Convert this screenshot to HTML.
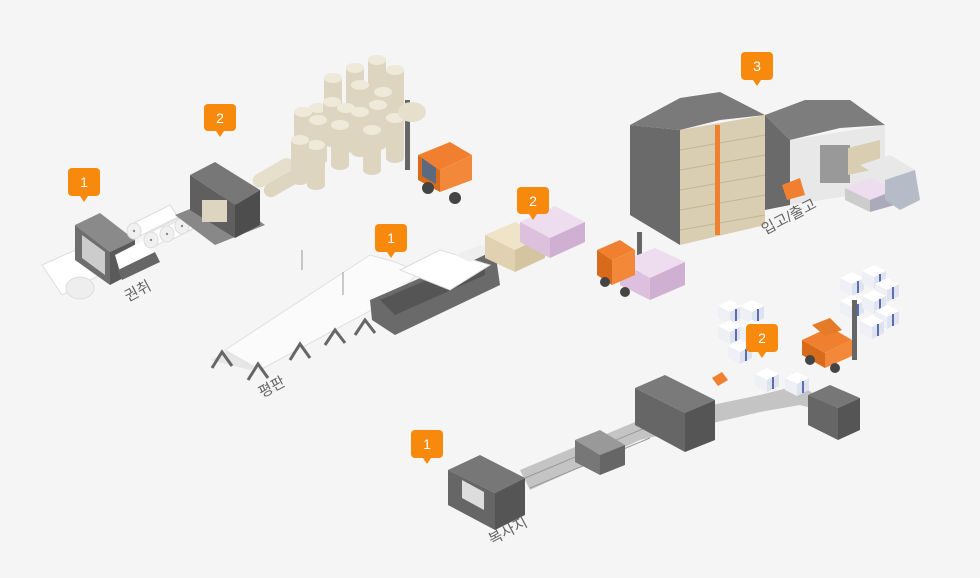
<!DOCTYPE html>
<html><head><meta charset="utf-8"><style>
html,body{margin:0;padding:0;background:#f5f5f5;}
svg{display:block}
.lbl{font-family:"Liberation Sans","Noto Sans CJK KR",sans-serif;font-size:15px;fill:#666}
.mk{font-family:"Liberation Sans",sans-serif;font-size:14px;fill:#fff;text-anchor:middle}
</style></head><body>
<svg width="980" height="578" viewBox="0 0 980 578" xmlns="http://www.w3.org/2000/svg">
<rect width="980" height="578" fill="#f5f5f5"/>
<defs>
<g id="roll"><ellipse cx="0" cy="0" rx="9" ry="5" fill="#e9e3d3"/><rect x="-9" y="0" width="18" height="40" fill="#ddd5c0"/><ellipse cx="0" cy="40" rx="9" ry="5" fill="#ddd5c0"/><ellipse cx="0" cy="0" rx="9" ry="5" fill="#efe9da"/></g>
<g id="wroll"><polygon points="0,0 40,-20 48,-8 8,12" fill="#fff" stroke="#ddd"/><ellipse cx="4" cy="6" rx="7" ry="8" fill="#f0f0f0" stroke="#ddd"/><circle cx="4" cy="6" r="1.2" fill="#888"/></g>
<g id="box"><polygon points="0,6 12,0 24,6 12,12" fill="#fff"/><polygon points="0,6 12,12 12,24 0,18" fill="#eef0f6"/><polygon points="12,12 24,6 24,18 12,24" fill="#dfe3ef"/><line x1="18" y1="9" x2="18" y2="21" stroke="#5a6fb0" stroke-width="2"/></g>
</defs>

<!-- winding machine 1 -->
<g>
<polygon points="42,265 80,248 100,275 62,295" fill="#fff" stroke="#ddd"/>
<ellipse cx="80" cy="288" rx="14" ry="11" fill="#eee" stroke="#ddd"/>
<polygon points="75,225 100,213 135,240 110,252" fill="#8a8a8a"/>
<polygon points="75,225 110,252 110,285 75,260" fill="#6e6e6e"/>
<polygon points="110,252 135,240 135,272 110,285" fill="#5a5a5a"/>
<polygon points="82,235 105,252 105,275 82,258" fill="#ccc"/>
<polygon points="115,255 150,237 155,255 120,272" fill="#fff"/>
<polygon points="118,270 155,252 160,262 122,280" fill="#666"/>
<use href="#wroll" x="130" y="225"/>
<use href="#wroll" x="147" y="234"/>
<use href="#wroll" x="163" y="228"/>
<use href="#wroll" x="178" y="220"/>
<use href="#wroll" x="188" y="212"/>
</g>
<!-- machine 2 -->
<polygon points="175,215 225,195 265,225 215,245" fill="#888"/>
<polygon points="190,175 215,162 260,190 235,205" fill="#777"/>
<polygon points="190,175 235,205 235,238 190,210" fill="#5f5f5f"/>
<polygon points="235,205 260,190 260,225 235,238" fill="#4d4d4d"/>
<rect x="202" y="200" width="25" height="22" fill="#ddd5c0"/>
<g transform="translate(250,178) rotate(-30)"><rect x="0" y="0" width="45" height="14" rx="7" fill="#e6dfcc"/><rect x="5" y="14" width="45" height="14" rx="7" fill="#ddd5c0"/></g>

<!-- paper rolls group -->
<g>
<use href="#roll" x="355" y="68"/><use href="#roll" x="377" y="60"/><use href="#roll" x="395" y="70"/>
<use href="#roll" x="333" y="78"/><use href="#roll" x="360" y="85"/><use href="#roll" x="383" y="92"/>
<use href="#roll" x="318" y="108"/><use href="#roll" x="332" y="102"/><use href="#roll" x="346" y="108"/>
<use href="#roll" x="303" y="112"/><use href="#roll" x="318" y="120"/><use href="#roll" x="340" y="125"/>
<use href="#roll" x="360" y="112"/><use href="#roll" x="378" y="105"/><use href="#roll" x="395" y="118"/>
<use href="#roll" x="372" y="130"/><use href="#roll" x="316" y="145"/><use href="#roll" x="300" y="140"/>
</g>
<!-- orange forklift 1 -->
<rect x="405" y="100" width="5" height="70" fill="#666"/>
<ellipse cx="412" cy="112" rx="14" ry="10" fill="#e6dfcc"/>
<polygon points="418,155 450,142 472,155 440,170" fill="#f08030"/>
<polygon points="418,155 440,170 440,192 418,180" fill="#d86a1c"/>
<polygon points="440,170 472,155 472,180 440,192" fill="#f4883a"/>
<polygon points="422,158 436,168 436,184 422,176" fill="#5a6a80"/>
<circle cx="428" cy="188" r="6" fill="#444"/><circle cx="455" cy="198" r="6" fill="#444"/>

<!-- flat line -->
<polygon points="210,360 355,285 395,268 400,285 250,370" fill="#e6e6e6"/>
<polygon points="225,350 370,255 395,262 420,272 390,300 260,370" fill="#fbfbfb" stroke="#e0e0e0"/>
<polygon points="370,300 450,265 495,250 500,285 395,335 372,320" fill="#6a6a6a"/>
<polygon points="380,300 455,268 485,262 485,275 395,315" fill="#555"/>
<polygon points="400,270 440,250 490,265 450,290" fill="#fff" stroke="#ddd"/>
<polygon points="455,255 480,245 495,250 470,262" fill="#eee"/>
<g fill="none" stroke="#666" stroke-width="3">
<polyline points="212,368 222,352 232,366"/><polyline points="248,380 258,364 268,378"/><polyline points="290,360 300,344 310,358"/><polyline points="325,345 335,330 345,343"/><polyline points="355,335 365,320 375,333"/>
</g>
<line x1="302" y1="250" x2="302" y2="270" stroke="#999"/><line x1="343" y1="272" x2="343" y2="295" stroke="#999"/>

<!-- beige boxes -->
<polygon points="485,235 515,222 545,235 515,250" fill="#efe4c8"/>
<polygon points="485,235 515,250 515,272 485,258" fill="#e0d2b0"/>
<polygon points="515,250 545,235 545,258 515,272" fill="#d4c5a0"/>
<polygon points="520,222 555,206 585,222 550,238" fill="#eedcef"/>
<polygon points="520,222 550,238 550,258 520,242" fill="#dcc0de"/>
<polygon points="550,238 585,222 585,242 550,258" fill="#cfb0d2"/>
<!-- pink forklift -->
<rect x="637" y="232" width="5" height="50" fill="#666"/>
<polygon points="620,262 655,248 685,262 650,278" fill="#eedcef"/>
<polygon points="620,262 650,278 650,300 620,285" fill="#dcc0de"/>
<polygon points="650,278 685,262 685,285 650,300" fill="#cfb0d2"/>
<polygon points="597,250 620,240 635,250 612,260" fill="#f08030"/>
<polygon points="597,250 612,260 612,285 597,275" fill="#d86a1c"/>
<polygon points="612,260 635,250 635,275 612,285" fill="#f4883a"/>
<circle cx="605" cy="282" r="5" fill="#444"/><circle cx="625" cy="292" r="5" fill="#444"/>

<!-- warehouse -->
<polygon points="630,125 680,98 720,92 765,115 720,120 680,130" fill="#7a7a7a"/>
<polygon points="630,125 680,130 680,245 630,215" fill="#6a6a6a"/>
<polygon points="680,130 765,115 765,225 680,245" fill="#d9cdb2"/>
<g stroke="#c4b690" stroke-width="1">
<line x1="680" y1="150" x2="765" y2="135"/><line x1="680" y1="170" x2="765" y2="155"/><line x1="680" y1="190" x2="765" y2="175"/><line x1="680" y1="210" x2="765" y2="195"/><line x1="680" y1="230" x2="765" y2="215"/>
</g>
<rect x="715" y="125" width="5" height="110" fill="#f08030"/>
<polygon points="765,115 805,100 850,100 885,125 840,128 790,140" fill="#7d7d7d"/>
<polygon points="765,115 790,140 790,205 765,210" fill="#6a6a6a"/>
<polygon points="790,140 885,125 885,190 790,205" fill="#e8e8e8"/>
<rect x="820" y="145" width="30" height="38" fill="#999"/>
<polygon points="848,148 880,140 880,168 848,175" fill="#d9cdb2"/>
<polygon points="782,185 800,178 805,195 787,200" fill="#f08030"/>
<!-- trucks -->
<polygon points="845,188 870,178 895,190 870,200" fill="#eedcef"/>
<polygon points="845,188 870,200 870,212 845,200" fill="#ccc"/>
<polygon points="870,200 895,190 895,205 870,212" fill="#aab"/>
<polygon points="860,165 890,155 915,170 885,180" fill="#e8e8e8"/>
<polygon points="885,180 915,170 920,200 900,210 885,200" fill="#b5bcc8"/>

<!-- copy line -->
<polygon points="520,470 640,420 760,395 800,385 855,420 800,405 760,412 640,440 530,490" fill="#c4c4c4"/>
<g stroke="#999" stroke-width="1">
<line x1="525" y1="478" x2="645" y2="428"/><line x1="530" y1="488" x2="650" y2="438"/>
</g>
<polygon points="575,440 600,430 625,445 600,455" fill="#999"/>
<polygon points="575,440 600,455 600,475 575,462" fill="#777"/>
<polygon points="600,455 625,445 625,465 600,475" fill="#666"/>
<polygon points="635,388 665,375 715,400 685,413" fill="#7a7a7a"/>
<polygon points="635,388 685,413 685,452 635,425" fill="#666"/>
<polygon points="685,413 715,400 715,440 685,452" fill="#555"/>
<polygon points="448,470 480,455 525,478 495,493" fill="#777"/>
<polygon points="448,470 495,493 495,530 448,505" fill="#666"/>
<polygon points="495,493 525,478 525,515 495,530" fill="#555"/>
<polygon points="462,480 484,492 484,510 462,498" fill="#ddd"/>
<polygon points="808,395 830,385 860,398 838,408" fill="#777"/>
<polygon points="808,395 838,408 838,440 808,425" fill="#666"/>
<polygon points="838,408 860,398 860,430 838,440" fill="#555"/>
<polygon points="712,378 722,372 728,380 718,386" fill="#f08030"/>
<!-- blue boxes -->
<use href="#box" x="718" y="300"/><use href="#box" x="740" y="300"/><use href="#box" x="718" y="320"/><use href="#box" x="740" y="320"/><use href="#box" x="728" y="340"/>
<use href="#box" x="840" y="272"/><use href="#box" x="862" y="265"/><use href="#box" x="875" y="278"/><use href="#box" x="840" y="295"/><use href="#box" x="862" y="290"/><use href="#box" x="875" y="305"/><use href="#box" x="860" y="315"/>
<use href="#box" x="755" y="368"/><use href="#box" x="785" y="372"/>
<!-- forklift 3 -->
<rect x="852" y="300" width="5" height="60" fill="#666"/>
<polygon points="802,340 830,327 852,340 825,353" fill="#f08030"/>
<polygon points="802,340 825,353 825,368 802,355" fill="#d86a1c"/>
<polygon points="825,353 852,340 852,356 825,368" fill="#f4883a"/>
<polygon points="812,325 830,318 842,330 825,336" fill="#e57a28"/>
<circle cx="810" cy="360" r="5" fill="#444"/><circle cx="835" cy="368" r="5" fill="#444"/>

<!-- labels -->
<text class="lbl" x="128" y="302" transform="rotate(-28 128 302)">권취</text>
<text class="lbl" x="262" y="398" transform="rotate(-28 262 398)">평판</text>
<text class="lbl" x="492" y="545" transform="rotate(-28 492 545)">복사지</text>
<text class="lbl" x="765" y="235" transform="rotate(-28 765 235)">입고/출고</text>

<!-- markers -->
<g fill="#f7890c">
<rect x="68" y="168" width="32" height="28" rx="4"/><polygon points="80,196 88,196 84,202"/>
<rect x="204" y="104" width="32" height="27" rx="4"/><polygon points="216,131 224,131 220,137"/>
<rect x="375" y="224" width="32" height="28" rx="4"/><polygon points="387,252 395,252 391,258"/>
<rect x="517" y="187" width="32" height="27" rx="4"/><polygon points="529,214 537,214 533,220"/>
<rect x="741" y="52" width="32" height="28" rx="4"/><polygon points="753,80 761,80 757,86"/>
<rect x="746" y="324" width="32" height="28" rx="4"/><polygon points="758,352 766,352 762,358"/>
<rect x="411" y="430" width="32" height="28" rx="4"/><polygon points="423,458 431,458 427,464"/>
</g>
<text class="mk" x="84" y="187">1</text>
<text class="mk" x="220" y="123">2</text>
<text class="mk" x="391" y="243">1</text>
<text class="mk" x="533" y="206">2</text>
<text class="mk" x="757" y="71">3</text>
<text class="mk" x="762" y="343">2</text>
<text class="mk" x="427" y="449">1</text>
</svg>
</body></html>
